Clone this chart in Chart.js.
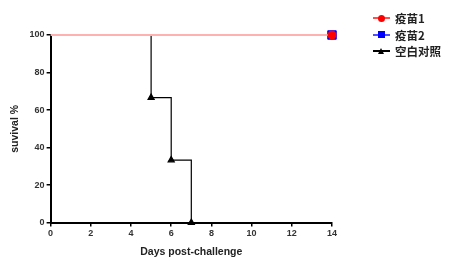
<!DOCTYPE html>
<html>
<head>
<meta charset="utf-8">
<script src="https://cdn.jsdelivr.net/npm/chart.js@4/dist/chart.umd.min.js"></script>
<style>
  body { margin: 0; background: #fff; }
  #wrap { position: relative; width: 455px; height: 266px; }
  #legend { position: absolute; left: 373px; top: 10px; font-family: "Noto Sans CJK SC", sans-serif; font-size: 11.5px; font-weight: bold; color: #222; }
  #legend .row { height: 16.5px; display: flex; align-items: center; }
  #legend .mk { position: relative; width: 17px; height: 10px; margin-right: 5px; }
  #legend .ln { position: absolute; left: 0; right: 0; top: 4px; height: 2px; }
  #legend .dot { position: absolute; left: 5px; top: 1.5px; width: 7px; height: 7px; }
</style>
</head>
<body>
<div id="wrap">
  <canvas id="c" width="455" height="266"></canvas>
  <div id="legend"></div>
</div>
<script>
// data
const seriesNames = ['疫苗1', '疫苗2', '空白对照'];
const days1 = [0, 14];
const surv1 = [100, 100];
const days2 = [0, 14];
const surv2 = [100, 100];
const daysCtrl = [0, 5, 6, 7];
const survCtrl = [100, 66.67, 33.33, 0];
const xTicks = [0, 2, 4, 6, 8, 10, 12, 14];
const yTicks = [0, 20, 40, 60, 80, 100];

function pts(xs, ys) {
  return xs.map((x, i) => ({ x: x, y: ys[i] }));
}

const tickFont = { family: 'Liberation Sans, Arial', size: 9, weight: 'bold' };
const titleFont = { family: 'Liberation Sans, Arial', size: 10.5, weight: 'bold' };

new Chart(document.getElementById('c').getContext('2d'), {
  type: 'line',
  data: {
    datasets: [
      {
        label: seriesNames[2],
        data: pts(daysCtrl, survCtrl),
        borderColor: '#000',
        backgroundColor: '#000',
        borderWidth: 1.2,
        stepped: 'before',
        pointStyle: 'triangle',
        pointRadius: [0, 3.5, 3.5, 3.5],
        clip: false,
        order: 3
      },
      {
        label: seriesNames[1],
        data: pts(days2, surv2),
        borderColor: '#0000ff',
        backgroundColor: '#0000ff',
        borderWidth: 1,
        showLine: false,
        pointStyle: 'rect',
        pointRadius: [0, 6],
        clip: false,
        order: 2
      },
      {
        label: seriesNames[0],
        data: pts(days1, surv1),
        borderColor: '#ffb0b0',
        backgroundColor: '#ff0000',
        pointBorderColor: '#ff0000',
        borderWidth: 2,
        pointStyle: 'circle',
        pointRadius: [0, 3.5],
        clip: false,
        order: 1
      }
    ]
  },
  options: {
    responsive: false,
    animation: false,
    layout: { padding: { left: 5, right: 123, top: 35, bottom: 4 } },
    plugins: { legend: { display: false }, tooltip: { enabled: false } },
    scales: {
      x: {
        type: 'linear',
        min: 0,
        max: 14,
        afterBuildTicks: s => { s.ticks = xTicks.map(v => ({ value: v })); },
        border: { color: '#000', width: 2 },
        grid: { drawOnChartArea: false, drawTicks: true, tickLength: 4, color: '#000', lineWidth: 1.5 },
        ticks: { color: '#333', font: tickFont, padding: 2 },
        title: { display: true, text: 'Days post-challenge', color: '#222', font: titleFont, padding: { top: 4 } }
      },
      y: {
        min: 0,
        max: 100,
        afterBuildTicks: s => { s.ticks = yTicks.map(v => ({ value: v })); },
        border: { color: '#000', width: 2 },
        grid: { drawOnChartArea: false, drawTicks: true, tickLength: 4, color: '#000', lineWidth: 1.5 },
        ticks: { color: '#333', font: tickFont, padding: 2 },
        title: { display: true, text: 'suvival %', color: '#222', font: titleFont, padding: { bottom: 6 } }
      }
    }
  }
});

// legend
const legendStyles = [
  { line: '#ff5050', shape: 'border-radius:50%;background:#f00;' },
  { line: '#5050ff', shape: 'background:#00f;' },
  { line: '#000', shape: 'width:0;height:0;left:5px;top:2px;background:none;border-left:3.5px solid transparent;border-right:3.5px solid transparent;border-bottom:6px solid #000;' }
];
const legend = document.getElementById('legend');
seriesNames.forEach((name, i) => {
  const st = legendStyles[i];
  legend.insertAdjacentHTML('beforeend',
    `<div class="row"><span class="mk"><span class="ln" style="background:${st.line}"></span><span class="dot" style="${st.shape}"></span></span><span>${name}</span></div>`);
});
</script>
</body>
</html>
